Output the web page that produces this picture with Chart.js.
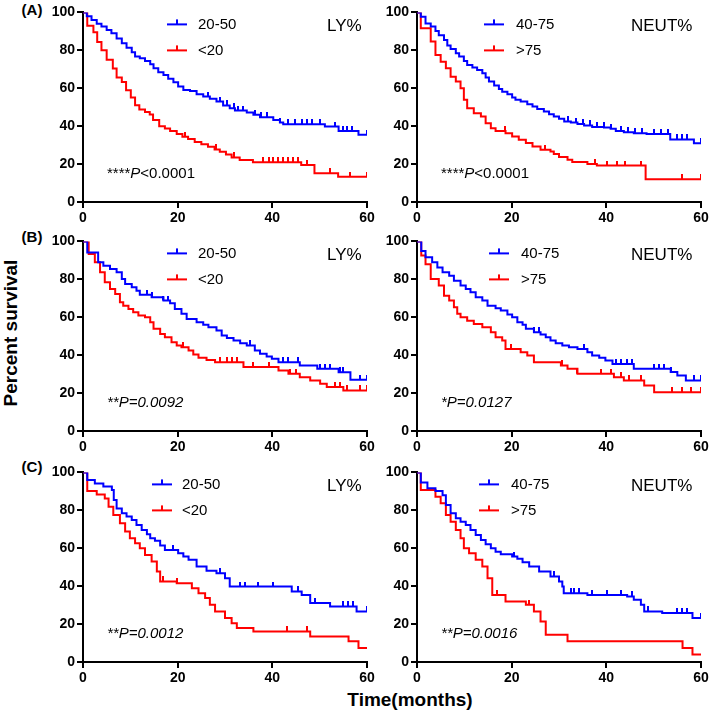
<!DOCTYPE html>
<html>
<head>
<meta charset="utf-8">
<script src="https://cdn.jsdelivr.net/npm/chart.js@4.4.1/dist/chart.umd.min.js"></script>
<style>
  body { margin: 0; background: #fff; }
  #fig { position: relative; width: 709px; height: 716px; overflow: hidden; font-family: "Liberation Sans", Arial, sans-serif; }
  #fig canvas { position: absolute; }
  .lbl { position: absolute; font-weight: bold; color: #000; white-space: nowrap; line-height: 1; }
</style>
</head>
<body>
<div id="fig">
  <div class="lbl" style="left:32px;top:9px;font-size:15px;transform:translate(-50%,-50%)">(A)</div>
  <div class="lbl" style="left:32px;top:236px;font-size:15px;transform:translate(-50%,-50%)">(B)</div>
  <div class="lbl" style="left:32px;top:466px;font-size:15px;transform:translate(-50%,-50%)">(C)</div>
  <div class="lbl" style="left:10px;top:333px;font-size:19px;transform:translate(-50%,-50%) rotate(-90deg)">Percent survival</div>
  <div class="lbl" style="left:410px;top:699px;font-size:19px;transform:translate(-50%,-50%)">Time(months)</div>
</div>
<script>
// ---- data: step times (months), survival (%) after each step, censor times ----
// (A) LY%
const A_LY_hi_t = [0.8,1.8,2.9,3.9,5,6,7.1,8.2,9.2,10.3,11,12,13.1,14.2,14.9,15.9,17,18,19.1,20.1,21.2,22.6,24,25.4,26.8,28.2,29.6,31,32.1,34.6,36,37.4,40.2,41.6,42.3,51.1,54,58.2];
const A_LY_hi_s = [98,96,94,92.5,90.7,89,86.3,83.7,81.4,79,76.7,75.8,74.4,72.6,70.5,68.4,67,65,63.2,60.9,59.1,58.6,56.8,55.6,54.4,53,50.9,49.5,48.2,47.2,46,44.7,43.3,41.9,41,39.8,37.5,35.5];
const A_LY_hi_c = [26.5,28.9,30.4,31.8,32.8,33.9,36.3,37.7,38.8,41.6,43.4,44.8,46.2,47.3,48.3,50.1,53.2,55,55.7,56.8,60];
const A_LY_lo_t = [0.9,2.2,3.0,3.9,5.0,6.3,7.1,8.2,9.1,10.1,11,11.9,13.1,14.1,14.8,16.1,17.3,18.4,19.8,21,22.2,23.6,25,26.4,27.8,28.9,30.2,31.4,33.1,35.9,46.1,48.9,53.9];
const A_LY_lo_s = [93,89.5,84.4,80,75,70.4,65.6,63.3,58.9,55.1,51,48.8,47.5,46.2,43.2,40,38.8,37.4,35.8,34.4,33.2,31.7,30.5,29.1,27.7,26.5,25.1,23.5,22.1,20.9,19.5,15.1,13.3];
const A_LY_lo_c = [21.5,28.2,32,38.1,39.2,40.2,41.3,42.3,43.4,44.4,45.5,47.3,52.2,56.4,60];
// (A) NEUT%
const A_NE_hi_t = [0.8,1.8,2.9,3.9,4.6,5.7,6.4,7.1,8.2,8.9,9.9,10.6,11.7,12.7,13.8,14.5,15.2,16.3,17.3,18,19.1,20.1,20.8,21.9,23.3,24.4,25.4,26.8,27.9,28.9,30,31.1,32.5,33.9,35.3,37,39.5,40.9,42,43.7,45.8,48.5,53.5,58.5];
const A_NE_hi_s = [97.7,94.2,92.5,90.2,88,85.4,82.6,80.7,78.4,76.7,74.4,72.3,70.9,69.6,67.9,65.6,63.5,61.4,59.6,58.2,56.8,55.1,53.9,53,51.6,50.4,49.1,47.7,46.3,45.1,43.9,42.5,41.9,41.1,40.4,39.6,39.3,38.6,37.5,36.8,36.3,35.8,33,31];
const A_NE_hi_c = [32,33.5,35,36.5,38,39.5,41,43,44.5,46,47.5,50,51.5,53,55,56,57,60];
const A_NE_lo_t = [0.8,2.9,3.9,5,6.1,7.1,8.2,9.2,9.9,10.6,12,13.5,14.5,15.6,16.6,18.7,20.1,21.5,23,24.4,26.1,28.2,28.9,30,31.8,32.8,36,38,48.3];
const A_NE_lo_s = [91.6,84.6,77.5,74,70.5,66.1,63.5,60,53.9,49.5,46.8,45.1,41.6,38.9,37.5,36.3,34.6,32.8,31.1,29.3,27.5,26.7,25.3,23.7,22.3,21.1,20,19.2,12];
const A_NE_lo_c = [18.5,27,37.7,40.2,42.3,44,47.3,56,60];
// (B) LY%
const B_LY_hi_t = [0.9,3.2,4.3,5.7,7.1,8.2,8.9,10.3,11.3,12,14.5,17,18.4,19.4,20.8,21.9,24,25.4,26.5,28.2,29.3,30.4,31.8,33.2,34.6,36.3,37.4,38.8,39.9,41.3,45.8,49.5,54,56.5];
const B_LY_hi_s = [94.2,89,87.2,85.4,83.7,80.2,77.5,75.8,74,71.9,70.5,68.8,67.4,64.4,61.8,59.1,57.4,56,54.7,53,50.4,49.1,47.7,46.3,45.1,42.5,40.7,39.3,38.1,36.3,34.6,32.8,31,27];
const B_LY_hi_c = [13.5,14.5,17,18,35.3,42.3,43.4,45.5,50.1,51.1,52.2,54.3,55,58.5,60];
const B_LY_lo_t = [1.2,2.5,3.6,4.6,5.7,6.8,7.8,8.5,9.6,10.6,11.7,13.1,14.2,14.9,16.3,17.3,18.7,19.8,20.8,22.3,23.3,24.4,26.1,27.9,33.9,41.3,43.4,45.8,48,50.1,51.5,55];
const B_LY_lo_s = [93.3,89,83.7,78.4,74.9,72.3,67.9,66.1,64.4,62.6,60.9,60,57.4,53.9,51.2,49.5,46.8,45.1,44.2,42.5,40.4,38.6,37.5,36.3,33.7,31.9,30.2,28.4,26.7,24.9,23.2,21.4];
const B_LY_lo_c = [21.2,29,30.4,31.4,32.5,36,39.2,43.7,45.1,53.2,54.3,55.7,58.5,60];
// (B) NEUT%
const B_NE_hi_t = [0.9,1.8,3.2,4.3,5.4,6.8,7.8,9.2,10.3,11.3,12.4,13.8,14.9,16.6,17.7,19.1,20.1,21.2,22.3,23,24.7,26.1,27.2,28.2,29.3,30.7,32.1,33.9,36,37,38.5,39.8,41.3,45.8,53.6,55,56.8];
const B_NE_hi_s = [95,91.6,89,86.3,83.7,81.9,79.3,76.7,74.9,73.2,70.5,68.8,66.1,64.7,63.5,61.4,60,57.4,56.1,53.9,52.1,50.9,49.5,47.7,46.3,45.1,44.2,43.3,41.6,39.8,38.6,37.2,35.4,32.8,31.1,29.3,26.7];
const B_NE_hi_c = [24.7,25.8,35.3,42,43,44.4,45.5,50.1,51.1,52.2,53.6,58.5,60];
const B_NE_lo_t = [0.9,1.8,2.9,4.6,5.7,6.8,7.8,8.5,9.2,10.6,12,13.8,15.6,16.6,18,18.7,21.9,23.3,24.7,30.4,31.8,33.9,41.6,43.7,48,50.1];
const B_NE_lo_s = [92.5,88,80.2,76.7,71.4,68.8,65.3,61.8,60,58.2,56.5,54.7,52.1,49.5,47.7,43.3,41.6,39.8,36.3,34.6,32.8,30.2,28.4,26.7,24,20.5];
const B_NE_lo_c = [19.8,30.7,33.9,38.8,40.9,43,44.8,47.3,53.9,56,57.8,60];
// (C) LY%
const C_LY_hi_t = [0.9,2.5,4.3,6.1,6.5,7.1,8.2,9.2,10.3,11.3,12.4,13.5,14.2,15.2,16.3,17.3,20.1,21.2,22.3,24,26.1,28.2,30,31,44.1,46.2,48,52.2,57.8];
const C_LY_hi_s = [96,94.2,92.5,90.7,85.4,81,78.4,76.7,74.9,72.3,69.6,67.4,65.3,63.9,61.4,59.1,57.4,55.6,53.9,50.4,48.1,46.8,44.2,39.8,37.2,35.4,31.1,29.3,26.7];
const C_LY_hi_c = [19.1,28.9,33.2,34.2,37,40.2,45.5,49,55,56,57.1,60];
const C_LY_lo_t = [0.9,2.9,4.6,5.4,6.4,7.8,8.9,9.9,11,12,13.1,14.5,15.6,16.3,19.8,23,24.4,25.8,26.8,27.9,30,31.4,32.5,36,48,56.1,58.2];
const C_LY_lo_s = [90.2,88.4,86.3,81.9,77.5,73.2,68.8,65.3,62.6,60,56.5,53,47.7,42.5,41.6,38.9,36.3,33.7,30.2,26.7,23.2,20.5,17.9,16.1,13.5,10.9,7.4];
const C_LY_lo_c = [17,19.8,43,47.3];
// (C) NEUT%
const C_NE_hi_t = [0.8,2.2,3.9,5.4,6.1,7.1,8.2,9.2,10.3,11.3,12.4,13.5,14.5,15.6,16.6,17.7,20.1,21.2,22.3,23.7,25.8,28.2,30,30.7,31,36,44.4,45.8,47.3,48,51.8,58.2];
const C_NE_hi_s = [94.7,91.6,90.2,88,82.8,78.4,75.8,74,72.3,69.6,67,64.4,62.1,60,58.2,56.8,55.6,54.4,52.6,50.4,47.7,45.1,42.5,39.8,36.3,35.4,34.6,32.8,30.2,26.7,25.8,23.2];
const C_NE_hi_c = [20.5,28.9,32.5,33.2,34.2,37,40.2,43,45.5,48.7,55,56,57.1,60];
const C_NE_lo_t = [0.8,3.9,5,6.1,7.1,8.2,9.2,9.9,11,12.4,13.8,14.9,15.9,18.7,23,24.7,26.1,27.2,31.8,56.1,58.2];
const C_NE_lo_s = [90.7,87.2,83.7,77.5,74,69.6,65.3,60,57.4,53.9,50.4,44.2,35.4,31.9,30.2,26.7,21.4,14.4,10.9,7.4,3.9];
const C_NE_lo_c = [17,23.7];

const xTicks = [0, 20, 40, 60];
const yTicks = [0, 20, 40, 60, 80, 100];
const LY_names = ['20-50', '<20'];
const NE_names = ['40-75', '>75'];

const FONT = '"Liberation Sans", Arial, sans-serif';
const BLUE = '#0000ff', RED = '#ff0000';

// panel layout: chart-area left/top in page px, legend offsets relative to chart area
const panels = [
  { left: 83,  top: 12,  hi: [A_LY_hi_t, A_LY_hi_s, A_LY_hi_c], lo: [A_LY_lo_t, A_LY_lo_s, A_LY_lo_c], names: LY_names, title: 'LY%',   titleX: 244, legX: 84, textX: 115, p: [['****', false], ['P', true], ['<0.0001', false]] },
  { left: 417, top: 12,  hi: [A_NE_hi_t, A_NE_hi_s, A_NE_hi_c], lo: [A_NE_lo_t, A_NE_lo_s, A_NE_lo_c], names: NE_names, title: 'NEUT%', titleX: 214, legX: 67, textX: 99,  p: [['****', false], ['P', true], ['<0.0001', false]] },
  { left: 83,  top: 241, hi: [B_LY_hi_t, B_LY_hi_s, B_LY_hi_c], lo: [B_LY_lo_t, B_LY_lo_s, B_LY_lo_c], names: LY_names, title: 'LY%',   titleX: 244, legX: 84, textX: 115, p: [['**P=0.0092', true]] },
  { left: 417, top: 241, hi: [B_NE_hi_t, B_NE_hi_s, B_NE_hi_c], lo: [B_NE_lo_t, B_NE_lo_s, B_NE_lo_c], names: NE_names, title: 'NEUT%', titleX: 214, legX: 72, textX: 104, p: [['*P=0.0127', true]] },
  { left: 83,  top: 472, hi: [C_LY_hi_t, C_LY_hi_s, C_LY_hi_c], lo: [C_LY_lo_t, C_LY_lo_s, C_LY_lo_c], names: LY_names, title: 'LY%',   titleX: 244, legX: 69, textX: 99,  p: [['**P=0.0012', true]] },
  { left: 417, top: 472, hi: [C_NE_hi_t, C_NE_hi_s, C_NE_hi_c], lo: [C_NE_lo_t, C_NE_lo_s, C_NE_lo_c], names: NE_names, title: 'NEUT%', titleX: 214, legX: 62, textX: 94,  p: [['**P=0.0016', true]] }
];

const AXIS_W = 45, AXIS_H = 26, PAD_T = 10, PAD_R = 12, AREA_W = 284, AREA_H = 190;

function stepAt(ts, ss, t) {
  let v = 100;
  ts.forEach((x, i) => { if (x <= t) v = ss[i]; });
  return v;
}
function kmPoints(ts, ss) {
  const pts = [{ x: 0, y: 100 }];
  ts.forEach((t, i) => pts.push({ x: t, y: ss[i] }));
  pts.push({ x: 60, y: ss[ss.length - 1] });
  return pts;
}
function censorPoints(ts, ss, cs) {
  return cs.map(c => ({ x: c, y: stepAt(ts, ss, c) }));
}
// upward censor tick
function tickImage(color) {
  const c = document.createElement('canvas');
  c.width = 2; c.height = 10;
  const g = c.getContext('2d');
  g.fillStyle = color;
  g.fillRect(0, 0, 2, 5);
  return c;
}
const tickBlue = tickImage(BLUE), tickRed = tickImage(RED);

const panelText = {
  id: 'panelText',
  afterDraw(chart, args, o) {
    const { ctx, chartArea: a } = chart;
    ctx.save();
    ctx.textBaseline = 'middle';
    ctx.textAlign = 'left';
    [BLUE, RED].forEach((col, i) => {
      const y = a.top + [12, 38][i];
      const x0 = a.left + o.legX;
      ctx.strokeStyle = col;
      ctx.lineWidth = 2;
      ctx.beginPath(); ctx.moveTo(x0, y); ctx.lineTo(x0 + 20, y); ctx.stroke();
      ctx.fillStyle = col;
      ctx.fillRect(x0 + 9, y - 5, 2, 5);
      ctx.fillStyle = '#000';
      ctx.font = '15px ' + FONT;
      ctx.fillText(o.names[i], a.left + o.textX, y);
    });
    ctx.font = '17px ' + FONT;
    ctx.fillText(o.title, a.left + o.titleX, a.top + 14);
    let x = a.left + 24;
    o.p.forEach(([txt, it]) => {
      ctx.font = (it ? 'italic ' : '') + '15px ' + FONT;
      ctx.fillText(txt, x, a.top + 161);
      x += ctx.measureText(txt).width;
    });
    ctx.restore();
  }
};

const fig = document.getElementById('fig');
const tickFont = { family: FONT, size: 14, weight: 'bold' };
const axisGrid = { display: true, drawOnChartArea: false, drawTicks: true, tickLength: 6, color: '#000', lineWidth: 2 };
const axisBorder = { display: true, color: '#000', width: 2 };

panels.forEach(p => {
  const cv = document.createElement('canvas');
  cv.width = AXIS_W + AREA_W + PAD_R;
  cv.height = PAD_T + AREA_H + AXIS_H;
  cv.style.left = (p.left - AXIS_W) + 'px';
  cv.style.top = (p.top - PAD_T) + 'px';
  fig.appendChild(cv);

  new Chart(cv.getContext('2d'), {
    type: 'line',
    data: {
      datasets: [
        { data: kmPoints(p.hi[0], p.hi[1]), stepped: true, borderColor: BLUE, borderWidth: 2, pointRadius: 0, borderJoinStyle: 'miter', fill: false },
        { data: censorPoints(p.hi[0], p.hi[1], p.hi[2]), showLine: false, pointStyle: tickBlue, pointRadius: 3, borderColor: BLUE },
        { data: kmPoints(p.lo[0], p.lo[1]), stepped: true, borderColor: RED, borderWidth: 2, pointRadius: 0, borderJoinStyle: 'miter', fill: false },
        { data: censorPoints(p.lo[0], p.lo[1], p.lo[2]), showLine: false, pointStyle: tickRed, pointRadius: 3, borderColor: RED }
      ]
    },
    options: {
      responsive: false,
      animation: false,
      devicePixelRatio: 1,
      layout: { padding: { top: PAD_T, right: PAD_R, left: 0, bottom: 0 } },
      plugins: {
        legend: { display: false },
        tooltip: { enabled: false },
        panelText: { names: p.names, title: p.title, titleX: p.titleX, legX: p.legX, textX: p.textX, p: p.p }
      },
      scales: {
        x: {
          type: 'linear', min: 0, max: 60,
          afterFit: s => { s.height = AXIS_H; },
          afterBuildTicks: s => { s.ticks = xTicks.map(v => ({ value: v })); },
          ticks: { color: '#000', font: tickFont, padding: 2, maxRotation: 0 },
          grid: axisGrid, border: axisBorder
        },
        y: {
          min: 0, max: 100,
          afterFit: s => { s.width = AXIS_W; },
          afterBuildTicks: s => { s.ticks = yTicks.map(v => ({ value: v })); },
          ticks: { color: '#000', font: tickFont, padding: 2 },
          grid: axisGrid, border: axisBorder
        }
      }
    },
    plugins: [panelText]
  });
});
</script>
</body>
</html>
